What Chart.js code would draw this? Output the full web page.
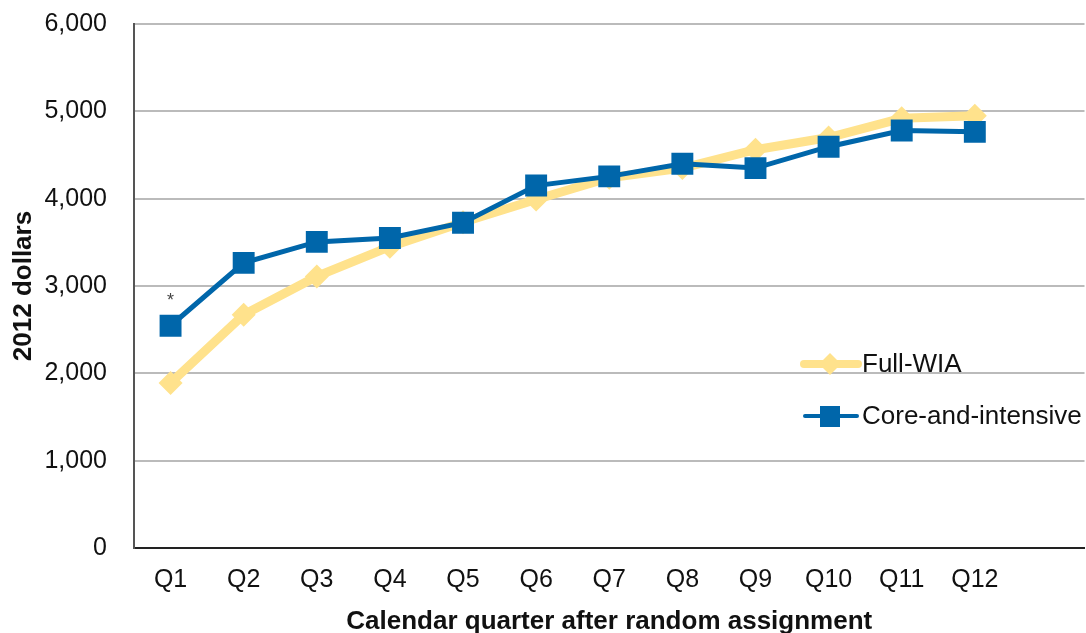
<!DOCTYPE html>
<html>
<head>
<meta charset="utf-8">
<script src="https://cdn.jsdelivr.net/npm/chart.js@4/dist/chart.umd.min.js"></script>
<style>
  html, body { margin: 0; padding: 0; background: #fff; overflow: hidden; }
  #wrap { width: 1100px; height: 633px; }
</style>
</head>
<body>
<div id="wrap"><canvas id="earnings" width="1100" height="633"></canvas></div>
<script>
// Quarters after random assignment (last slot left empty, as in the original)
const quarters = ['Q1', 'Q2', 'Q3', 'Q4', 'Q5', 'Q6', 'Q7', 'Q8', 'Q9', 'Q10', 'Q11', 'Q12', ''];
const fullWia = [1890, 2670, 3110, 3450, 3730, 3990, 4240, 4350, 4560, 4700, 4920, 4950];
const coreIntensive = [2545, 3265, 3505, 3550, 3725, 4150, 4255, 4400, 4350, 4595, 4780, 4765];
const yTicks = [0, 1000, 2000, 3000, 4000, 5000, 6000];

const yellow = '#FFE28C';
const blue = '#0066AA';
const font = 'Liberation Sans, Arial, sans-serif';

// legend and the significance star are drawn by hand
const extras = {
    id: 'extras',
    afterDraw(chart) {
        const ctx = chart.ctx;
        ctx.save();

        // asterisk over Q1
        const x = chart.scales.x.getPixelForValue(0);
        const y = chart.scales.y.getPixelForValue(coreIntensive[0]);
        ctx.fillStyle = '#444';
        ctx.font = '18px ' + font;
        ctx.textAlign = 'center';
        ctx.fillText('*', x, y - 20);

        // legend
        ctx.lineCap = 'round';
        ctx.strokeStyle = yellow;
        ctx.lineWidth = 8;
        ctx.beginPath(); ctx.moveTo(804, 364); ctx.lineTo(858, 364); ctx.stroke();
        ctx.fillStyle = yellow;
        ctx.beginPath();
        ctx.moveTo(830, 353); ctx.lineTo(841, 364); ctx.lineTo(830, 375); ctx.lineTo(819, 364);
        ctx.closePath(); ctx.fill();

        ctx.strokeStyle = blue;
        ctx.lineWidth = 4;
        ctx.beginPath(); ctx.moveTo(805, 416); ctx.lineTo(857, 416); ctx.stroke();
        ctx.fillStyle = blue;
        ctx.fillRect(820, 406, 20, 21);

        ctx.fillStyle = '#111';
        ctx.font = '26px ' + font;
        ctx.textAlign = 'left';
        ctx.textBaseline = 'middle';
        ctx.fillText('Full-WIA', 862, 365);
        ctx.fillText('Core-and-intensive', 862, 417);
        ctx.restore();
    }
};

new Chart(document.getElementById('earnings').getContext('2d'), {
    type: 'line',
    data: {
        labels: quarters,
        datasets: [{
            label: 'Full-WIA',
            data: fullWia,
            borderColor: yellow,
            backgroundColor: yellow,
            borderWidth: 9,
            pointStyle: 'rectRot',
            pointRadius: 12,
            pointBorderWidth: 0,
            tension: 0,
            order: 2
        }, {
            label: 'Core-and-intensive',
            data: coreIntensive,
            borderColor: blue,
            backgroundColor: blue,
            borderWidth: 5,
            pointStyle: 'rect',
            pointRadius: 15.5,
            pointBorderWidth: 0,
            tension: 0,
            order: 1
        }]
    },
    options: {
        responsive: false,
        animation: false,
        layout: { padding: { top: 24, right: 0, left: 0, bottom: 0 } },
        scales: {
            x: {
                offset: true,
                grid: { display: false },
                border: { display: true, color: '#222', width: 2 },
                ticks: { color: '#111', font: { family: font, size: 25 }, padding: 9, maxRotation: 0, autoSkip: false },
                title: { display: true, text: 'Calendar quarter after random assignment', color: '#111',
                         font: { family: font, size: 26, weight: 'bold' }, padding: { top: 0, bottom: -4 } },
                afterFit(scale) { scale.height = 85; }
            },
            y: {
                min: 0,
                max: 6000,
                afterBuildTicks(scale) { scale.ticks = yTicks.map(v => ({ value: v })); },
                grid: { color: '#BBBBBB', lineWidth: 2, drawTicks: false },
                border: { display: true, color: '#555', width: 2 },
                ticks: {
                    color: '#111', font: { family: font, size: 25 }, padding: 27,
                    callback: v => v.toLocaleString('en-US')
                },
                title: { display: true, text: '2012 dollars', color: '#111',
                         font: { family: font, size: 26, weight: 'bold' }, padding: { top: 8, bottom: 0 } },
                afterFit(scale) {
                    scale.width = 134;
                    scale.paddingTop = 0;
                    scale.paddingBottom = 0;
                }
            }
        },
        plugins: {
            legend: { display: false },
            tooltip: { enabled: false }
        }
    },
    plugins: [extras]
});
</script>
</body>
</html>
